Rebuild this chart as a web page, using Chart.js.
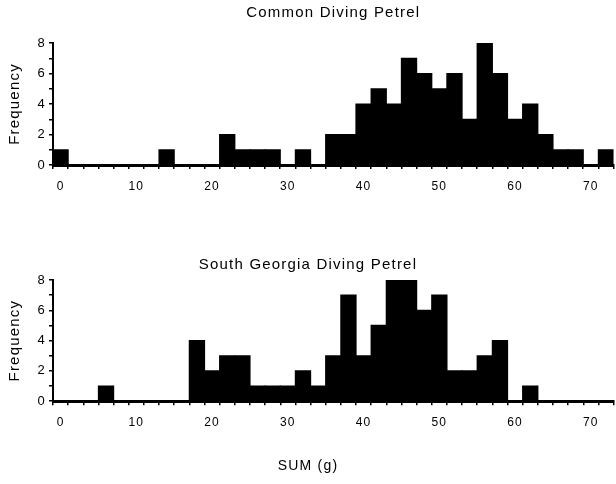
<!DOCTYPE html>
<html>
<head>
<meta charset="utf-8">
<script src="https://cdn.jsdelivr.net/npm/chart.js@4/dist/chart.umd.min.js"></script>
<style>
  body { margin: 0; background: #fff; }
  canvas { position: absolute; left: 0; }
  #topChart { top: 0; }
  #bottomChart { top: 240px; }
</style>
</head>
<body>
<canvas id="topChart" width="616" height="200"></canvas>
<canvas id="bottomChart" width="616" height="244"></canvas>
<script>
// 2 g bins, centred on even values
const bins = ['0', '2', '4', '6', '8', '10', '12', '14', '16', '18', '20', '22', '24', '26',
  '28', '30', '32', '34', '36', '38', '40', '42', '44', '46', '48', '50', '52', '54',
  '56', '58', '60', '62', '64', '66', '68', '70', '72'];

const commonCounts = [1, 0, 0, 0, 0, 0, 0, 1, 0, 0, 0, 2, 1, 1, 1, 0, 1, 0, 2, 2,
  4, 5, 4, 7, 6, 5, 6, 3, 8, 6, 3, 4, 2, 1, 1, 0, 1];

const southGeorgiaCounts = [0, 0, 0, 1, 0, 0, 0, 0, 0, 4, 2, 3, 3, 1, 1, 1, 2, 1, 3, 7,
  3, 5, 8, 8, 6, 7, 2, 2, 3, 4, 0, 1, 0, 0, 0, 0, 0];

const xTickLabels = ['0', '10', '20', '30', '40', '50', '60', '70'];
const yTickLabels = [0, 2, 4, 6, 8];

const FONT = '"Liberation Sans", Arial, Helvetica, sans-serif';
Chart.defaults.color = '#000';
Chart.defaults.font.family = FONT;

// wider letter spacing like the scanned figure; x axis gets more
const spacingPlugin = {
  id: 'spacing',
  beforeDraw(chart) { chart.ctx.letterSpacing = '1.2px'; },
  afterDatasetsDraw(chart) { chart.ctx.letterSpacing = '3px'; }
};

function makeHistogram(id, title, counts, cfg) {
  return new Chart(document.getElementById(id), {
    type: 'bar',
    data: {
      labels: bins,
      datasets: [{
        data: counts,
        backgroundColor: '#000',
        borderWidth: 0,
        inflateAmount: 0.6,
        barPercentage: 1,
        categoryPercentage: 1
      }]
    },
    options: {
      responsive: false,
      animation: false,
      layout: { padding: 0 },
      plugins: {
        legend: { display: false },
        tooltip: { enabled: false },
        title: {
          display: true,
          fullSize: cfg.titleFull,
          text: title,
          color: '#000',
          font: { size: 15, weight: 'normal' },
          padding: cfg.titlePadding
        },
        subtitle: {
          display: !!cfg.xTitle,
          text: cfg.xTitle || '',
          position: 'bottom',
          color: '#000',
          font: { size: 14, weight: 'normal' },
          padding: { top: 0, bottom: 9 }
        }
      },
      scales: {
        x: {
          type: 'category',
          z: 1,
          offset: true,
          grid: {
            display: true,
            offset: true,
            drawOnChartArea: false,
            drawTicks: true,
            tickLength: 4,
            color: '#000',
            lineWidth: 1.5
          },
          border: { display: true, color: '#000', width: 3 },
          ticks: {
            autoSkip: false,
            maxRotation: 0,
            padding: 10,
            color: '#000',
            font: { size: 12 },
            callback(value) {
              const l = this.getLabelForValue(value);
              return xTickLabels.includes(l) ? l : '';
            }
          },
          afterFit(scale) { scale.height = cfg.xHeight; }
        },
        y: {
          min: 0,
          max: 8,
          grid: {
            drawOnChartArea: false,
            tickLength: 4,
            color: '#000',
            lineWidth: 1.5
          },
          border: { display: true, color: '#000', width: 2 },
          ticks: {
            stepSize: 1,
            autoSkip: false,
            padding: 3,
            color: '#000',
            font: { size: 13 },
            callback: v => yTickLabels.includes(v) ? v : ''
          },
          title: {
            display: true,
            text: 'Frequency',
            color: '#000',
            font: { size: 15 },
            padding: { top: 6, bottom: 0 }
          },
          afterFit(scale) { scale.width = 53; }
        }
      }
    },
    plugins: [spacingPlugin]
  });
}

makeHistogram('topChart', 'Common Diving Petrel', commonCounts, {
  titlePadding: { top: 4, bottom: 21 },
  titleFull: false,
  xHeight: 35
});

makeHistogram('bottomChart', 'South Georgia Diving Petrel', southGeorgiaCounts, {
  titlePadding: { top: 16, bottom: 6 },
  titleFull: true,
  xHeight: 57,
  xTitle: 'SUM (g)'
});
</script>
</body>
</html>
